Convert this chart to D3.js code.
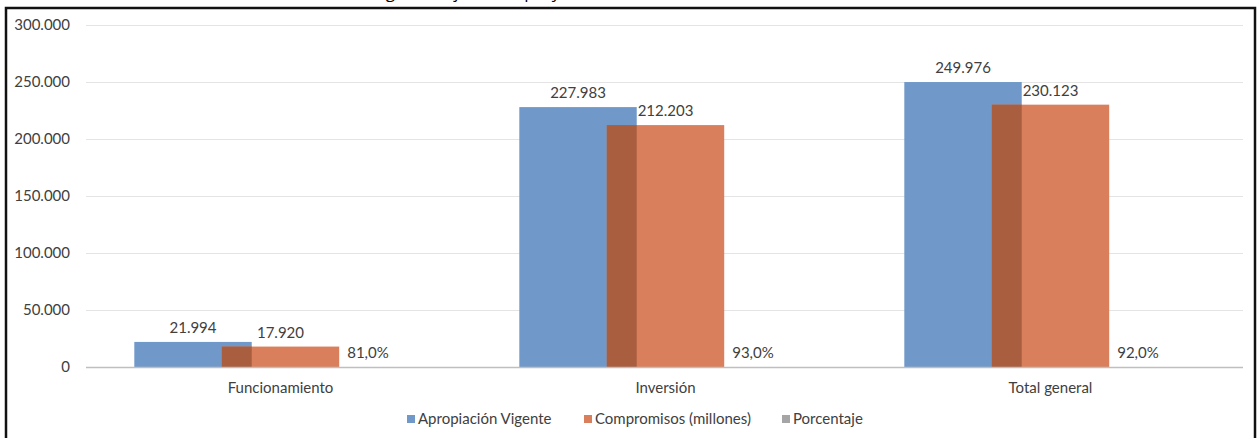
<!DOCTYPE html>
<html>
<head>
<meta charset="utf-8">
<script src="https://cdn.jsdelivr.net/npm/d3@7"></script>
<style>
  body { margin: 0; background: #fff; }
  svg { display: block; font-family: Lato, "Open Sans", sans-serif; }
</style>
</head>
<body>
<div class="chart_box"></div>
<script>
// Data
const categories = ["Funcionamiento", "Inversión", "Total general"];
const apropiacion = [21994, 227983, 249976];
const compromisos = [17920, 212203, 230123];
const porcentaje = [0.81, 0.93, 0.92];
const seriesNames = ["Apropiación Vigente", "Compromisos (millones)", "Porcentaje"];
const yTicks = [0, 50000, 100000, 150000, 200000, 250000, 300000];

const colors = ["#7099c9", "#d97f5b", "#a5a5a5"];
const overlapColor = "#a95e3f";

const width = 1259, height = 438;
const margin = { left: 88, right: 16, top: 25, bottom: 71 };

const svg = d3
  .select(".chart_box")
  .append("svg")
  .attr("width", width)
  .attr("height", height);

// es-CO style number format
const locale = d3.formatLocale({ decimal: ",", thousands: ".", grouping: [3], currency: ["$", ""] });
const fmtNum = locale.format(",.0f");
const fmtPct = locale.format(".1%");

// Title, mostly cut off above the frame (as in the source image)
svg.append("text")
  .attr("x", 560)
  .attr("y", -2)
  .attr("text-anchor", "middle")
  .attr("font-family", "'Open Sans', sans-serif")
  .attr("font-size", 17)
  .attr("fill", "#000")
  .text("Figura 1. Ejecución proyectos de inversión 2019");

// Frame
svg.append("rect")
  .attr("x", 6)
  .attr("y", 8)
  .attr("width", 1249)
  .attr("height", 460)
  .attr("fill", "none")
  .attr("stroke", "#111")
  .attr("stroke-width", 2.5);

const xScale = d3
  .scaleBand()
  .domain(categories)
  .range([margin.left, width - margin.right])
  .padding(0);

const yScale = d3
  .scaleLinear()
  .domain([0, 300000])
  .range([height - margin.bottom, margin.top]);

// Gridlines
svg.append("g")
  .selectAll("line")
  .data(yTicks.filter((d) => d > 0))
  .enter()
  .append("line")
  .attr("x1", margin.left - 2)
  .attr("x2", width - margin.right)
  .attr("y1", (d) => Math.round(yScale(d)) + 0.5)
  .attr("y2", (d) => Math.round(yScale(d)) + 0.5)
  .attr("stroke", "#e4e4e4")
  .attr("stroke-width", 1);

// Y axis labels
const yAxis = svg.append("g")
  .attr("transform", `translate(${margin.left - 18}, 0)`)
  .call(d3.axisLeft(yScale).tickValues(yTicks).tickFormat(fmtNum).tickSize(0).tickPadding(0));
yAxis.select(".domain").remove();
yAxis.selectAll("text")
  .attr("font-family", "Lato, sans-serif")
  .attr("font-size", 15)
  .attr("fill", "#404040");

// Bar geometry (overlapping clustered bars)
const barW = xScale.bandwidth() * 0.305;
const step = barW * 0.745;
const groupW = barW + step * 2;
const barX = (cat, i) => xScale(cat) + (xScale.bandwidth() - groupW) / 2 + i * step;

const rows = categories.map((c, k) => ({
  cat: c,
  vals: [apropiacion[k], compromisos[k], porcentaje[k]]
}));

const barData = [];
rows.forEach((r) => r.vals.forEach((v, i) => barData.push({ cat: r.cat, i, v })));

const bars = svg.append("g");
bars.selectAll("rect")
  .data(barData)
  .enter()
  .append("rect")
  .attr("x", (d) => barX(d.cat, d.i))
  .attr("y", (d) => yScale(d.v))
  .attr("width", barW)
  .attr("height", (d) => yScale(0) - yScale(d.v))
  .attr("fill", (d) => colors[d.i]);

// Darker zone where the orange bar covers the blue one
svg.append("g")
  .selectAll("rect")
  .data(rows)
  .enter()
  .append("rect")
  .attr("x", (d) => barX(d.cat, 1))
  .attr("y", (d) => yScale(Math.min(d.vals[0], d.vals[1])))
  .attr("width", barW - step)
  .attr("height", (d) => yScale(0) - yScale(Math.min(d.vals[0], d.vals[1])))
  .attr("fill", overlapColor);

// Baseline
svg.append("line")
  .attr("x1", margin.left - 2)
  .attr("x2", width - margin.right)
  .attr("y1", Math.round(yScale(0)) + 0.5)
  .attr("y2", Math.round(yScale(0)) + 0.5)
  .attr("stroke", "#bfbfbf")
  .attr("stroke-width", 1.5);

// Value labels
svg.append("g")
  .selectAll("text")
  .data(barData)
  .enter()
  .append("text")
  .attr("x", (d) => barX(d.cat, d.i) + barW / 2)
  .attr("y", (d) => yScale(d.v) - 9)
  .attr("text-anchor", "middle")
  .attr("font-size", 15)
  .attr("fill", "#404040")
  .text((d) => (d.i === 2 ? fmtPct(d.v) : fmtNum(d.v)));

// Category labels
svg.append("g")
  .selectAll("text")
  .data(categories)
  .enter()
  .append("text")
  .attr("x", (d) => xScale(d) + xScale.bandwidth() / 2)
  .attr("y", yScale(0) + 26)
  .attr("text-anchor", "middle")
  .attr("font-size", 15)
  .attr("fill", "#404040")
  .text((d) => d);

// Legend
const legendX = [407, 584, 782];
const legend = svg.append("g")
  .selectAll("g")
  .data(seriesNames)
  .enter()
  .append("g")
  .attr("transform", (d, i) => `translate(${legendX[i]}, 419)`);
legend.append("rect")
  .attr("x", 0)
  .attr("y", -4)
  .attr("width", 8)
  .attr("height", 8)
  .attr("fill", (d, i) => colors[i]);
legend.append("text")
  .attr("x", 11)
  .attr("y", 5)
  .attr("font-size", 15)
  .attr("fill", "#404040")
  .text((d) => d);
</script>
</body>
</html>
